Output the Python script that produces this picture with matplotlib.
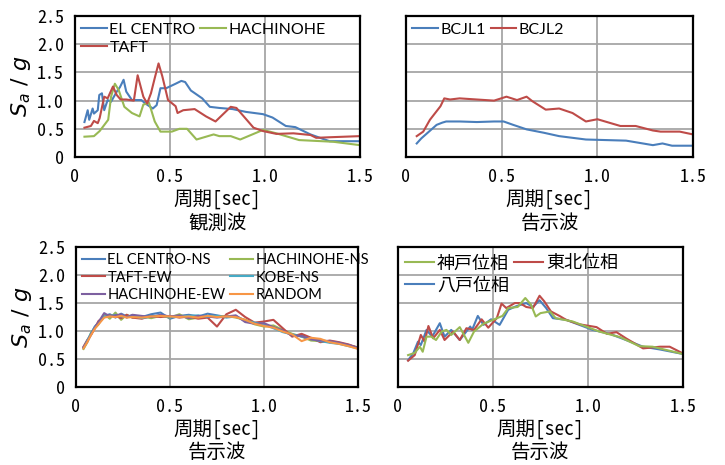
import matplotlib
matplotlib.use('Agg')
import matplotlib.pyplot as plt

# ---- data ----
# 観測波 (observed)
t_elc = [0.05, 0.067, 0.075, 0.093, 0.10, 0.12, 0.128, 0.142, 0.154, 0.172, 0.19, 0.20, 0.22, 0.237, 0.256,
         0.27, 0.30, 0.35, 0.37, 0.41, 0.43, 0.45, 0.48, 0.53, 0.56, 0.58, 0.61, 0.67, 0.71, 0.76, 0.83,
         0.90, 0.99, 1.04, 1.11, 1.16, 1.24, 1.34, 1.40, 1.50]
sa_elc = [0.62, 0.83, 0.66, 0.86, 0.77, 0.83, 1.10, 1.13, 0.83, 1.01, 0.98, 1.04, 1.16, 1.24, 1.37,
          1.16, 1.01, 1.01, 0.95, 0.86, 0.92, 1.22, 1.22, 1.30, 1.35, 1.33, 1.18, 1.04, 0.89, 0.87, 0.85,
          0.80, 0.76, 0.70, 0.55, 0.53, 0.40, 0.28, 0.28, 0.28]
t_taft = [0.05, 0.084, 0.10, 0.12, 0.13, 0.154, 0.172, 0.20, 0.22, 0.24, 0.27, 0.31, 0.33, 0.36, 0.38,
          0.40, 0.42, 0.44, 0.46, 0.49, 0.53, 0.54, 0.57, 0.63, 0.69, 0.74, 0.82, 0.85, 0.94, 0.99, 1.06,
          1.15, 1.24, 1.27, 1.34, 1.50]
sa_taft = [0.52, 0.55, 0.64, 0.60, 0.69, 1.07, 1.04, 1.25, 1.10, 1.02, 1.02, 1.00, 1.45, 1.07, 0.95,
           1.13, 1.40, 1.66, 1.43, 1.01, 0.90, 0.78, 0.83, 0.85, 0.72, 0.63, 0.89, 0.87, 0.52, 0.46, 0.41,
           0.42, 0.39, 0.34, 0.35, 0.37]
t_hach = [0.05, 0.10, 0.13, 0.175, 0.19, 0.21, 0.23, 0.26, 0.30, 0.34, 0.36, 0.39, 0.42, 0.45, 0.51,
          0.55, 0.59, 0.64, 0.69, 0.73, 0.76, 0.82, 0.87, 0.99, 1.06, 1.18, 1.36, 1.50]
sa_hach = [0.36, 0.37, 0.46, 0.66, 1.07, 1.30, 1.19, 0.89, 0.78, 0.72, 0.93, 0.96, 0.63, 0.45, 0.45,
           0.50, 0.50, 0.31, 0.36, 0.40, 0.37, 0.37, 0.31, 0.48, 0.42, 0.30, 0.27, 0.21]

# 告示波 BCJL
t_bc1 = [0.056, 0.08, 0.11, 0.16, 0.19, 0.21, 0.28, 0.37, 0.46, 0.51, 0.56, 0.63, 0.72, 0.80, 0.94,
         1.15, 1.29, 1.34, 1.39, 1.50]
sa_bc1 = [0.24, 0.33, 0.42, 0.57, 0.61, 0.63, 0.63, 0.62, 0.63, 0.63, 0.57, 0.49, 0.43, 0.37, 0.31,
          0.29, 0.21, 0.24, 0.20, 0.20]
t_bc2 = [0.056, 0.09, 0.125, 0.18, 0.20, 0.23, 0.28, 0.37, 0.46, 0.525, 0.58, 0.63, 0.66, 0.73, 0.80,
         0.87, 0.94, 1.00, 1.12, 1.20, 1.29, 1.33, 1.43, 1.50]
sa_bc2 = [0.37, 0.45, 0.66, 0.90, 1.04, 1.02, 1.04, 1.02, 1.00, 1.07, 1.01, 1.07, 0.99, 0.84, 0.86,
          0.78, 0.63, 0.67, 0.55, 0.55, 0.47, 0.45, 0.45, 0.40]

# 告示波 (observed phase)
t_kok = [0.04, 0.06, 0.08, 0.10, 0.12, 0.15, 0.18, 0.21, 0.24, 0.27, 0.30, 0.35, 0.40, 0.45, 0.50,
         0.55, 0.60, 0.65, 0.70, 0.75, 0.80, 0.85, 0.90, 0.95, 1.00, 1.05, 1.10, 1.15, 1.20, 1.25,
         1.30, 1.35, 1.40, 1.45, 1.50]
sa_elc_ns = [0.70, 0.82, 0.95, 1.08, 1.15, 1.27, 1.30, 1.24, 1.31, 1.26, 1.28, 1.25, 1.30, 1.33, 1.22,
             1.27, 1.29, 1.26, 1.31, 1.28, 1.25, 1.27, 1.18, 1.14, 1.10, 1.08, 1.00, 0.93, 0.92, 0.87,
             0.84, 0.80, 0.78, 0.75, 0.70]
sa_hach_ns = [0.68, 0.80, 0.97, 1.05, 1.12, 1.30, 1.22, 1.33, 1.20, 1.29, 1.24, 1.26, 1.23, 1.27, 1.24,
              1.30, 1.21, 1.24, 1.27, 1.25, 1.27, 1.24, 1.20, 1.12, 1.08, 1.10, 1.02, 0.95, 0.90, 0.83,
              0.82, 0.81, 0.78, 0.74, 0.71]
sa_taft_ew = [0.72, 0.84, 0.93, 1.05, 1.18, 1.25, 1.28, 1.27, 1.23, 1.29, 1.24, 1.22, 1.27, 1.25, 1.27,
              1.24, 1.26, 1.22, 1.24, 1.08, 1.30, 1.38, 1.25, 1.15, 1.17, 1.20, 1.05, 0.90, 0.95, 0.88,
              0.80, 0.83, 0.80, 0.76, 0.70]
sa_kobe_ns = [0.70, 0.83, 0.96, 1.07, 1.14, 1.26, 1.27, 1.29, 1.26, 1.25, 1.27, 1.23, 1.26, 1.28, 1.25,
              1.26, 1.27, 1.28, 1.25, 1.27, 1.24, 1.26, 1.19, 1.15, 1.12, 1.05, 0.98, 0.94, 0.90, 0.86,
              0.82, 0.79, 0.77, 0.73, 0.69]
sa_hach_ew = [0.71, 0.81, 0.94, 1.06, 1.16, 1.32, 1.26, 1.28, 1.30, 1.24, 1.29, 1.27, 1.25, 1.29, 1.26,
              1.28, 1.23, 1.27, 1.26, 1.24, 1.26, 1.28, 1.16, 1.13, 1.14, 1.07, 1.01, 0.92, 0.91, 0.85,
              0.83, 0.82, 0.79, 0.75, 0.70]
sa_random = [0.69, 0.80, 0.93, 1.04, 1.12, 1.24, 1.26, 1.25, 1.27, 1.24, 1.25, 1.24, 1.26, 1.27, 1.26,
             1.25, 1.26, 1.24, 1.27, 1.25, 1.26, 1.25, 1.20, 1.13, 1.09, 1.06, 0.99, 0.94, 0.82, 0.88,
             0.86, 0.80, 0.77, 0.73, 0.68]

# 告示波 (phase)
t_hachi = [0.053, 0.08, 0.105, 0.12, 0.15, 0.18, 0.22, 0.245, 0.28, 0.325, 0.38, 0.39, 0.42, 0.45, 0.49,
           0.535, 0.58, 0.62, 0.675, 0.71, 0.745, 0.78, 0.815, 0.885, 0.955, 1.025, 1.115, 1.20, 1.29,
           1.38, 1.50]
sa_hachi = [0.48, 0.60, 0.81, 0.75, 1.02, 0.90, 1.14, 0.90, 1.02, 0.84, 1.08, 1.02, 1.27, 1.11, 1.21,
            1.11, 1.38, 1.44, 1.50, 1.43, 1.55, 1.41, 1.23, 1.20, 1.11, 1.02, 0.95, 0.84, 0.72, 0.67, 0.59]
t_tohoku = [0.053, 0.088, 0.12, 0.14, 0.16, 0.185, 0.22, 0.245, 0.29, 0.325, 0.36, 0.40, 0.44, 0.475,
            0.52, 0.545, 0.57, 0.615, 0.64, 0.675, 0.71, 0.745, 0.77, 0.805, 0.85, 0.885, 0.955, 1.045,
            1.10, 1.15, 1.20, 1.29, 1.38, 1.43, 1.50]
sa_tohoku = [0.47, 0.57, 0.93, 0.81, 1.09, 0.87, 1.02, 0.84, 0.99, 0.84, 1.05, 1.02, 1.21, 1.06,
             1.23, 1.49, 1.41, 1.50, 1.50, 1.43, 1.41, 1.63, 1.53, 1.35, 1.27, 1.20, 1.12, 1.07,
             0.95, 0.98, 0.87, 0.69, 0.72, 0.72, 0.60]
t_kobe = [0.053, 0.088, 0.115, 0.13, 0.15, 0.175, 0.20, 0.23, 0.255, 0.28, 0.325, 0.37, 0.40, 0.45, 0.50,
          0.55, 0.58, 0.63, 0.67, 0.70, 0.725, 0.75, 0.80, 0.83, 0.92, 0.99, 1.06, 1.17, 1.27, 1.34, 1.50]
sa_kobe = [0.57, 0.61, 0.72, 0.63, 0.90, 0.90, 0.84, 0.99, 1.02, 0.93, 1.07, 0.79, 0.99, 1.13, 1.20,
           1.27, 1.41, 1.43, 1.59, 1.47, 1.26, 1.32, 1.35, 1.23, 1.17, 1.08, 0.99, 0.89, 0.73, 0.72, 0.59]

x_ticks = [0, 0.5, 1.0, 1.5]
x_labels = ['0', '0.5', '1.0', '1.5']
y_ticks = [0, 0.5, 1.0, 1.5, 2.0, 2.5]
y_labels = ['0', '0.5', '1.0', '1.5', '2.0', '2.5']

BLUE = '#4A7EBB'
RED = '#BE4B48'
GREEN = '#98B954'
PURPLE = '#7D60A0'
CYAN = '#46AAC5'
ORANGE = '#F79646'

JP = ['Noto Sans CJK JP', 'DejaVu Sans']
MONO = ['Noto Sans Mono CJK JP', 'Noto Sans CJK JP', 'DejaVu Sans']
LEG = ['Lato', 'DejaVu Sans']
plt.rcParams['mathtext.fontset'] = 'dejavusans'

fig = plt.figure(figsize=(7.25, 4.65), dpi=100)


def make_axes(rect, show_y, subtitle):
    ax = fig.add_axes(rect)
    ax.set_xlim(0, 1.5)
    ax.set_ylim(0, 2.5)
    ax.set_xticks(x_ticks)
    ax.set_xticklabels(x_labels, fontfamily=MONO, fontsize=13)
    ax.set_yticks(y_ticks)
    if show_y:
        ax.set_yticklabels(y_labels, fontfamily=MONO, fontsize=13)
        ax.text(-0.19, 0.5, r'$S_a\ /\ g$', transform=ax.transAxes, rotation=90,
                ha='center', va='center', fontsize=16)
    else:
        ax.set_yticklabels([])
    ax.tick_params(length=0, pad=8)
    ax.grid(True, color='#A6A6A6', linewidth=1.3)
    ax.set_axisbelow(True)
    for s in ax.spines.values():
        s.set_linewidth(1.6)
        s.set_color('black')
    ax.text(0.5, -0.305, '周期[sec]', transform=ax.transAxes, ha='center', va='center',
            fontfamily=MONO, fontsize=14)
    ax.text(0.5, -0.47, subtitle, transform=ax.transAxes, ha='center', va='center',
            fontfamily=JP, fontsize=14)
    return ax


def add_legend(ax, handles, fam, size):
    ax.legend(handles=handles, loc='upper left', ncol=2, frameon=False,
              prop={'family': fam, 'size': size}, handlelength=1.6, handletextpad=0.15,
              columnspacing=0.3, labelspacing=0.25, borderaxespad=0.1, borderpad=0.3)


lw = 1.5

# top left
ax1 = make_axes([0.1034, 0.6624, 0.393, 0.303], True, '観測波')
l_elc, = ax1.plot(t_elc, sa_elc, color=BLUE, lw=lw, label='EL CENTRO')
l_hach, = ax1.plot(t_hach, sa_hach, color=GREEN, lw=lw, label='HACHINOHE')
l_taft, = ax1.plot(t_taft, sa_taft, color=RED, lw=lw, label='TAFT')
add_legend(ax1, [l_elc, l_taft, l_hach], LEG, 11.5)

# top right
ax2 = make_axes([0.560, 0.6624, 0.396, 0.303], False, '告示波')
l_b1, = ax2.plot(t_bc1, sa_bc1, color=BLUE, lw=lw, label='BCJL1')
l_b2, = ax2.plot(t_bc2, sa_bc2, color=RED, lw=lw, label='BCJL2')
add_legend(ax2, [l_b1, l_b2], LEG, 11.5)

# bottom left
ax3 = make_axes([0.1048, 0.1677, 0.389, 0.301], True, '告示波')
a, = ax3.plot(t_kok, sa_elc_ns, color=BLUE, lw=lw, label='EL CENTRO-NS')
b, = ax3.plot(t_kok, sa_hach_ns, color=GREEN, lw=lw, label='HACHINOHE-NS')
c, = ax3.plot(t_kok, sa_taft_ew, color=RED, lw=lw, label='TAFT-EW')
d, = ax3.plot(t_kok, sa_kobe_ns, color=CYAN, lw=lw, label='KOBE-NS')
e, = ax3.plot(t_kok, sa_hach_ew, color=PURPLE, lw=lw, label='HACHINOHE-EW')
f, = ax3.plot(t_kok, sa_random, color=ORANGE, lw=lw, label='RANDOM')
add_legend(ax3, [a, c, e, b, d, f], LEG, 10.5)

# bottom right
ax4 = make_axes([0.549, 0.1677, 0.393, 0.301], False, '告示波')
g1, = ax4.plot(t_hachi, sa_hachi, color=BLUE, lw=lw, label='八戸位相')
g2, = ax4.plot(t_tohoku, sa_tohoku, color=RED, lw=lw, label='東北位相')
g3, = ax4.plot(t_kobe, sa_kobe, color=GREEN, lw=lw, label='神戸位相')
add_legend(ax4, [g3, g1, g2], JP, 13)

plt.savefig('out.png', dpi=100)
